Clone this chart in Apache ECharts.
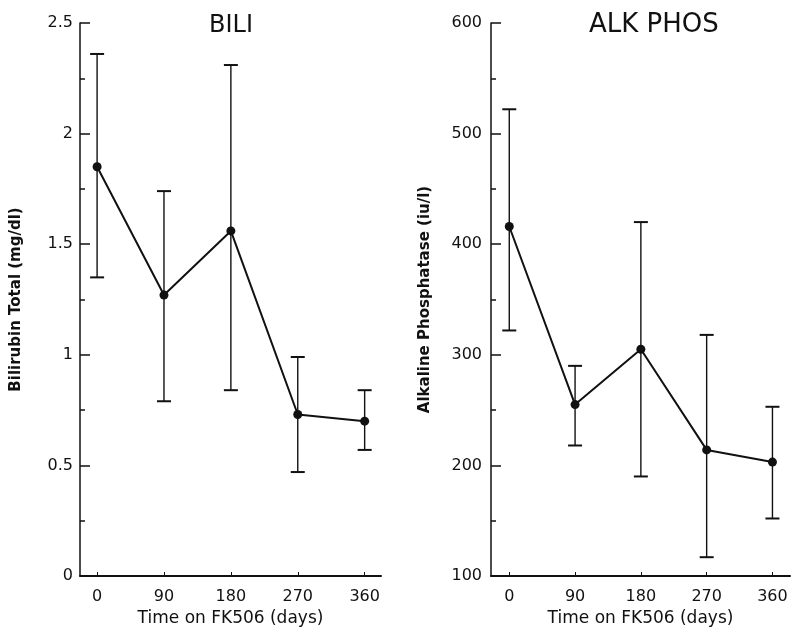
<!DOCTYPE html>
<html>
<head>
<meta charset="utf-8">
<script src="https://cdn.jsdelivr.net/npm/echarts@6/dist/echarts.min.js"></script>
<style>
  html, body { margin: 0; padding: 0; background: #fff; }
  #chart { width: 800px; height: 633px; }
</style>
</head>
<body>
<div id="chart"></div>
<script>
// values
const days = [0, 90, 180, 270, 360];
const dayTicks = [0, 90, 180, 270, 360];

const biliMean = [1.85, 1.27, 1.56, 0.73, 0.70];
const biliLow = [1.35, 0.79, 0.84, 0.47, 0.57];
const biliHigh = [2.36, 1.74, 2.31, 0.99, 0.84];

const alkMean = [416, 255, 305, 214, 203];
const alkLow = [322, 218, 190, 117, 152];
const alkHigh = [522, 290, 420, 318, 253];

const INK = '#111';
const FONT = 'DejaVu Sans, Arial, sans-serif';

const chart = echarts.init(document.getElementById('chart'), null, { renderer: 'canvas' });

function errorBars(low, high) {
  return days.map((d, i) => [d, low[i], high[i]]);
}

function meanLine(mean) {
  return days.map((d, i) => [d, mean[i]]);
}

// vertical bar with caps at low / high
function renderErrorBar(params, api) {
  const x = api.value(0);
  const lo = api.coord([x, api.value(1)]);
  const hi = api.coord([x, api.value(2)]);
  const cap = 7;
  const capStyle = { stroke: INK, lineWidth: 2 };
  return {
    type: 'group',
    children: [
      { type: 'line', shape: { x1: lo[0], y1: lo[1], x2: hi[0], y2: hi[1] }, style: { stroke: INK, lineWidth: 1.4 } },
      { type: 'line', shape: { x1: lo[0] - cap, y1: lo[1], x2: lo[0] + cap, y2: lo[1] }, style: capStyle },
      { type: 'line', shape: { x1: hi[0] - cap, y1: hi[1], x2: hi[0] + cap, y2: hi[1] }, style: capStyle },
    ],
  };
}

function xAxisFor(gridIndex, min, max) {
  return {
    gridIndex,
    type: 'value',
    min,
    max,
    name: 'Time on FK506 (days)',
    nameLocation: 'middle',
    nameGap: 32,
    nameTextStyle: { color: INK, fontSize: 17, fontFamily: FONT },
    axisLine: { onZero: false, lineStyle: { color: INK, width: 2 } },
    axisTick: { show: true, inside: true, length: 4, customValues: dayTicks, lineStyle: { color: INK, width: 1 } },
    axisLabel: { color: INK, fontSize: 16, fontFamily: FONT, margin: 13, customValues: dayTicks },
    splitLine: { show: false },
  };
}

function yAxisFor(gridIndex, min, max, interval, name, nameGap, labelMargin) {
  return {
    gridIndex,
    type: 'value',
    min,
    max,
    interval,
    name,
    nameLocation: 'middle',
    nameGap,
    nameTextStyle: { color: INK, fontSize: 15, fontWeight: 'bold', fontFamily: FONT },
    axisLine: { show: true, onZero: false, lineStyle: { color: INK, width: 1.5 } },
    axisTick: { show: true, inside: true, length: 10, lineStyle: { color: INK, width: 1.5 } },
    minorTick: { show: true, splitNumber: 2, length: 5, lineStyle: { color: INK, width: 1.5 } },
    axisLabel: { color: INK, fontSize: 16, fontFamily: FONT, margin: labelMargin },
    splitLine: { show: false },
  };
}

const option = {
  backgroundColor: '#fff',
  animation: false,
  title: [
    { text: 'BILI', left: 204, top: 9, textStyle: { color: INK, fontSize: 24, fontWeight: 'normal', fontFamily: FONT } },
    { text: 'ALK PHOS', left: 584, top: 7, textStyle: { color: INK, fontSize: 26, fontWeight: 'normal', fontFamily: FONT } },
  ],
  grid: [
    { left: 80, right: 419, top: 23, bottom: 57 },
    { left: 491, right: 10, top: 23, bottom: 57 },
  ],
  xAxis: [xAxisFor(0, -23, 382), xAxisFor(1, -25, 384)],
  yAxis: [
    yAxisFor(0, 0, 2.5, 0.5, 'Bilirubin Total (mg/dl)', 56, 7),
    yAxisFor(1, 100, 600, 100, 'Alkaline Phosphatase (iu/l)', 58, 9),
  ],
  series: [
    {
      type: 'custom',
      xAxisIndex: 0,
      yAxisIndex: 0,
      data: errorBars(biliLow, biliHigh),
      renderItem: renderErrorBar,
      z: 2,
    },
    {
      type: 'line',
      xAxisIndex: 0,
      yAxisIndex: 0,
      data: meanLine(biliMean),
      symbol: 'circle',
      symbolSize: 9,
      itemStyle: { color: INK },
      lineStyle: { color: INK, width: 2 },
      z: 3,
    },
    {
      type: 'custom',
      xAxisIndex: 1,
      yAxisIndex: 1,
      data: errorBars(alkLow, alkHigh),
      renderItem: renderErrorBar,
      z: 2,
    },
    {
      type: 'line',
      xAxisIndex: 1,
      yAxisIndex: 1,
      data: meanLine(alkMean),
      symbol: 'circle',
      symbolSize: 9,
      itemStyle: { color: INK },
      lineStyle: { color: INK, width: 2 },
      z: 3,
    },
  ],
};

chart.setOption(option);
</script>
</body>
</html>
